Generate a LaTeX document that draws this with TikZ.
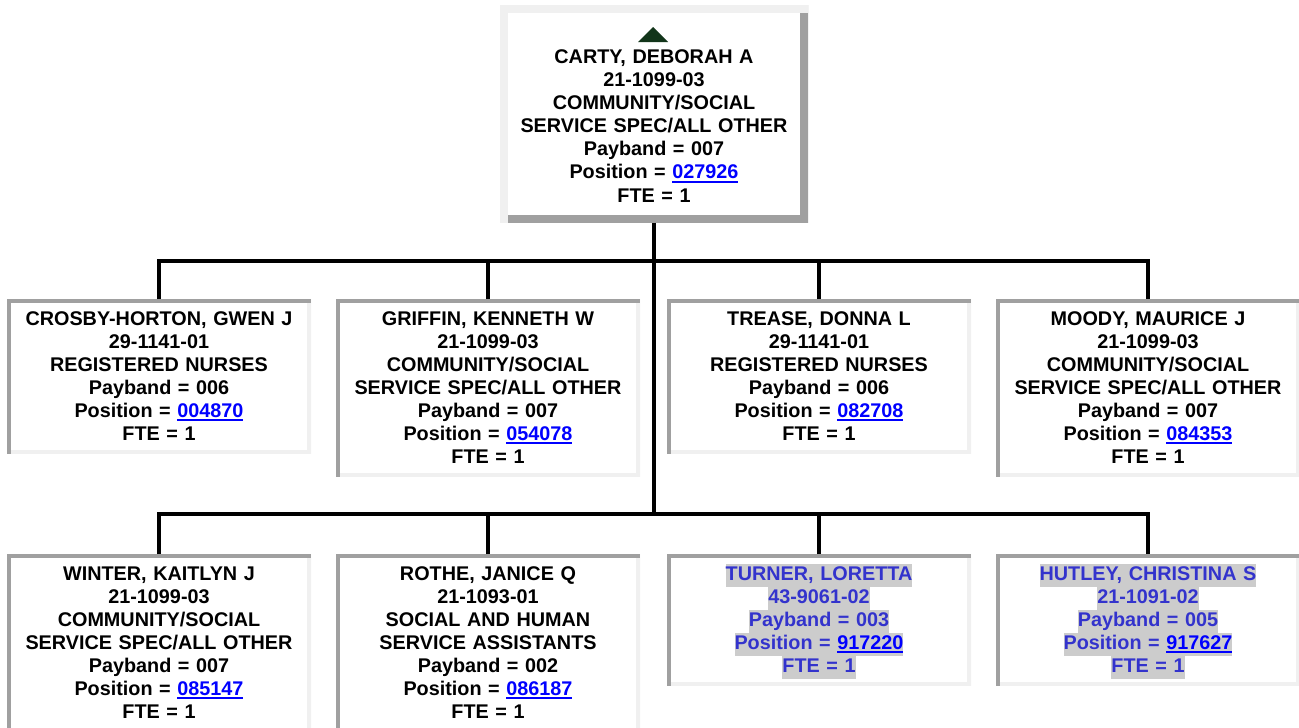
\documentclass[tikz,border=0pt]{standalone}
\usepackage{fontspec}
\setmainfont{Liberation Sans}
\usepackage{xcolor}
\usepackage{tikz}

\definecolor{bevdark}{HTML}{A0A0A0}
\definecolor{bevlight}{HTML}{F0F0F0}
\definecolor{linkblue}{HTML}{0000FF}
\definecolor{hlblue}{HTML}{3333CC}
\definecolor{hlgray}{HTML}{CCCCCC}
\definecolor{marker}{HTML}{12351A}

% underlined position number
\newcommand\lnk[1]{\textcolor{linkblue}{\setbox0=\hbox{#1}\rlap{\rule[-3.6pt]{\wd0}{2pt}}\box0}}
% grey highlight behind a line
\newcommand\hl[1]{{\setlength{\fboxsep}{0pt}\colorbox{hlgray}{\strut#1}}}

\begin{document}
\begin{tikzpicture}[
    x=1pt, y=-1pt,
    bevel/.style n args={3}{path picture={
        \draw[#3, line width=#1] (path picture bounding box.north east) -- (path picture bounding box.south east) -- (path picture bounding box.south west);
        \draw[#2, line width=#1] (path picture bounding box.south west) -- (path picture bounding box.north west) -- (path picture bounding box.north east);
    }},
    person/.style={rectangle, fill=white, anchor=north, outer sep=0pt, inner xsep=4pt, inner ysep=6.2pt, text width=296pt, align=center, font=\bfseries\fontsize{19.8}{23}\selectfont, execute at begin node=\rule{0pt}{20.2pt}, execute at end node=\strut, bevel={8pt}{bevdark}{bevlight}},
    chief/.style={person, text width=300pt, inner ysep=13.6pt, bevel={16pt}{bevlight}{bevdark}},
    vacant/.style={person, text=hlblue},
    branch/.style={line width=4pt, black}
]
\useasboundingbox (0,0) rectangle (1299,728);
\clip (0,0) rectangle (1299,728);

% Manager
\node[chief] (carty) at (654,5) {\rule{0pt}{22.4pt}\strut\\CARTY, DEBORAH A\\21-1099-03\\COMMUNITY/SOCIAL\\SERVICE SPEC/ALL OTHER\\Payband = 007\\Position = \lnk{027926}\\FTE = 1};
\fill[marker] ([shift={(-1pt,-22pt)}]carty.north) -- ([shift={(-16pt,-37pt)}]carty.north) -- ([shift={(14pt,-37pt)}]carty.north) -- cycle;

% First row
\node[person] (crosby) at (159,299) {CROSBY-HORTON, GWEN J\\29-1141-01\\REGISTERED NURSES\\Payband = 006\\Position = \lnk{004870}\\FTE = 1};
\node[person] (griffin) at (488,299) {GRIFFIN, KENNETH W\\21-1099-03\\COMMUNITY/SOCIAL\\SERVICE SPEC/ALL OTHER\\Payband = 007\\Position = \lnk{054078}\\FTE = 1};
\node[person] (trease) at (819,299) {TREASE, DONNA L\\29-1141-01\\REGISTERED NURSES\\Payband = 006\\Position = \lnk{082708}\\FTE = 1};
\node[person] (moody) at (1148,299) {MOODY, MAURICE J\\21-1099-03\\COMMUNITY/SOCIAL\\SERVICE SPEC/ALL OTHER\\Payband = 007\\Position = \lnk{084353}\\FTE = 1};

% Second row
\node[person] (winter) at (159,554) {WINTER, KAITLYN J\\21-1099-03\\COMMUNITY/SOCIAL\\SERVICE SPEC/ALL OTHER\\Payband = 007\\Position = \lnk{085147}\\FTE = 1};
\node[person] (rothe) at (488,554) {ROTHE, JANICE Q\\21-1093-01\\SOCIAL AND HUMAN\\SERVICE ASSISTANTS\\Payband = 002\\Position = \lnk{086187}\\FTE = 1};
\node[vacant] (turner) at (819,554) {\hl{TURNER, LORETTA}\\\hl{43-9061-02}\\\hl{Payband = 003}\\\hl{Position = \lnk{917220}}\\\hl{FTE = 1}};
\node[vacant] (hutley) at (1148,554) {\hl{HUTLEY, CHRISTINA S}\\\hl{21-1091-02}\\\hl{Payband = 005}\\\hl{Position = \lnk{917627}}\\\hl{FTE = 1}};

% Connectors
\coordinate (bus1) at (654,261.3);
\coordinate (bus2) at (654,514.3);
\draw[branch] (carty.south) -- (bus2);
\draw[branch] (crosby.north) |- (bus1) -| (moody.north);
\draw[branch] (griffin.north) -- (griffin.north |- bus1);
\draw[branch] (trease.north) -- (trease.north |- bus1);
\draw[branch] (winter.north) |- (bus2) -| (hutley.north);
\draw[branch] (rothe.north) -- (rothe.north |- bus2);
\draw[branch] (turner.north) -- (turner.north |- bus2);

\end{tikzpicture}
\end{document}
